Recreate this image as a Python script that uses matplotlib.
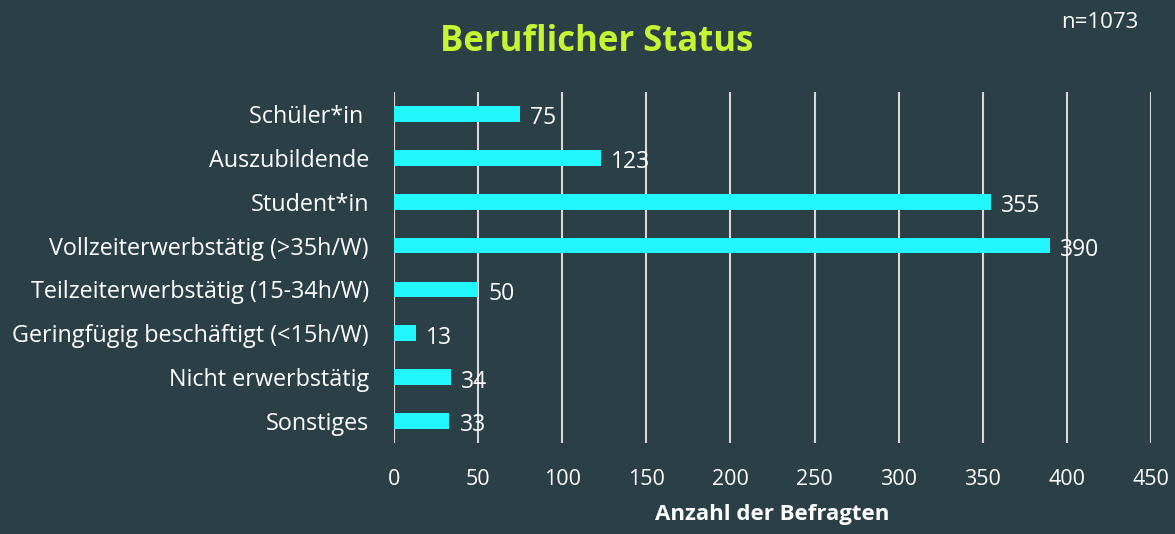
import matplotlib.pyplot as plt

categories = ["Schüler*in ", "Auszubildende", "Student*in", "Vollzeiterwerbstätig (>35h/W)",
              "Teilzeiterwerbstätig (15-34h/W)", "Geringfügig beschäftigt (<15h/W)",
              "Nicht erwerbstätig", "Sonstiges"]
values = [75, 123, 355, 390, 50, 13, 34, 33]
xticks = [0, 50, 100, 150, 200, 250, 300, 350, 400, 450]

bg = "#2b3f47"
plt.rcParams['font.family'] = ['Open Sans', 'DejaVu Sans']

fig = plt.figure(figsize=(11.75, 5.34), dpi=100, facecolor=bg)
ax = fig.add_axes([0.3353, 0.1704, 0.6443, 0.6573], facecolor=bg)

pos = list(range(len(categories)))
ax.barh(pos, values, height=0.36, color="#22f7ff", zorder=3)
for p, v in zip(pos, values):
    ax.text(v + 6, p + 0.1, str(v), color="white", fontsize=16.5, va="center", ha="left", zorder=4)

ax.set_xlim(0, 450)
ax.set_ylim(len(categories) - 0.5, -0.5)
ax.set_xticks(xticks)
ax.set_yticks(pos)
ax.set_yticklabels(categories)
ax.grid(axis="x", color="#d9d9d9", linewidth=1.5, zorder=1)
ax.tick_params(axis="x", length=0, pad=19, labelsize=15.5, labelcolor="white")
ax.tick_params(axis="y", length=0, pad=18, labelsize=16.8, labelcolor="white")
for s in ax.spines.values():
    s.set_visible(False)

ax.set_xlabel("Anzahl der Befragten", color="white", fontsize=16, fontweight="bold", labelpad=10)
fig.text(0.508, 0.922, "Beruflicher Status", color="#c6f531", fontsize=25, fontweight="bold",
         ha="center", va="center")
fig.text(0.936, 0.958, "n=1073", color="white", fontsize=16, ha="center", va="center")

fig.savefig("out.png", dpi=100, facecolor=bg)
